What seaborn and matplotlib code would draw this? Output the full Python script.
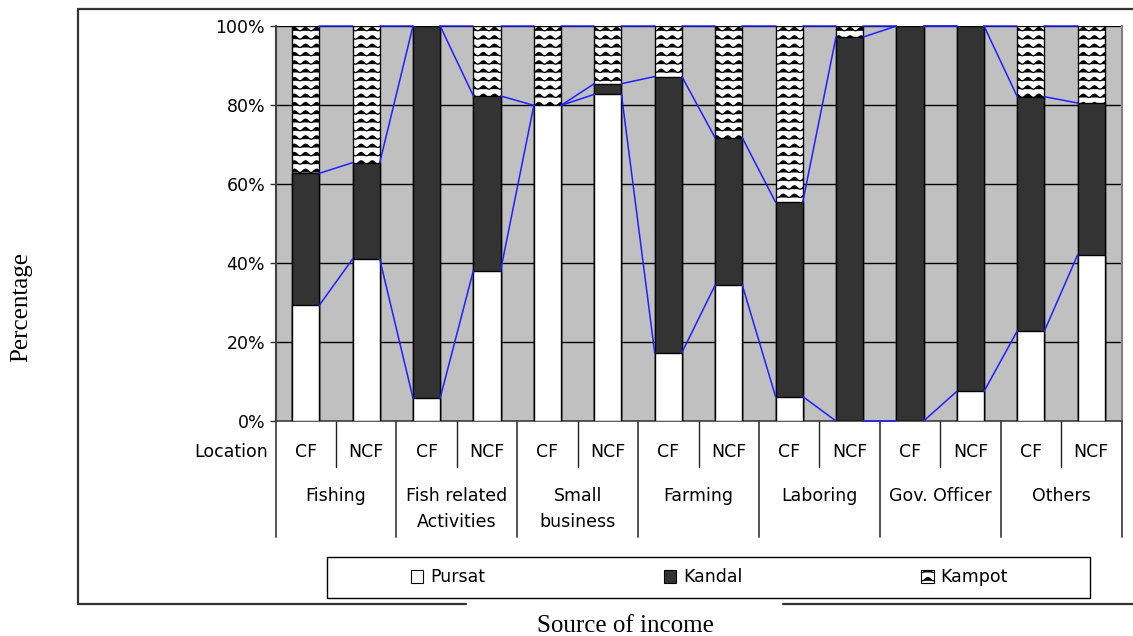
import warnings
warnings.filterwarnings("ignore")
import numpy as np
import pandas as pd
import matplotlib
matplotlib.use("Agg")
import matplotlib.pyplot as plt
import matplotlib.hatch as mhatch
from matplotlib.path import Path
from matplotlib.patches import Patch, Rectangle
from matplotlib.lines import Line2D
from matplotlib.transforms import blended_transform_factory
import seaborn as sns

# ---------------- data ----------------
categories = ["Fishing", "Fish related\nActivities", "Small\nbusiness", "Farming",
              "Laboring", "Gov. Officer", "Others"]
locations = ["CF", "NCF"]
pursat = [29.3, 41.0, 5.8, 38.1, 79.9, 82.7, 17.3, 34.4, 6.2, 0.0, 0.0, 7.5, 22.8, 42.1]
kandal = [33.4, 24.4, 94.2, 44.2, 0.0, 2.7, 69.9, 37.3, 49.2, 97.2, 100.0, 92.5, 59.3, 38.4]
kampot = [37.3, 34.6, 0.0, 17.7, 20.1, 14.6, 12.8, 28.3, 44.6, 2.8, 0.0, 0.0, 17.9, 19.5]
ytick_values = [0, 20, 40, 60, 80, 100]
ytick_labels = ["0%", "20%", "40%", "60%", "80%", "100%"]
series_names = ["Pursat", "Kandal", "Kampot"]

# ---------------- custom wave hatch ----------------
class WaveHatch(mhatch.HatchPatternBase):
    pts = 91

    def __init__(self, hatch, density):
        self.num_rows = int(hatch.count('~') * density)
        self.num_vertices = self.num_rows * self.pts

    def set_vertices_and_codes(self, vertices, codes):
        n = self.num_rows
        xs = np.linspace(0.0, 1.0, self.pts)
        cycles = 9
        amp = 0.2 / n
        for i in range(n):
            y0 = (i + 0.5) / n
            sl = slice(i * self.pts, (i + 1) * self.pts)
            vertices[sl, 0] = xs
            vertices[sl, 1] = y0 - amp * np.cos(2 * np.pi * cycles * xs)
            codes[sl] = Path.LINETO
            codes[i * self.pts] = Path.MOVETO


mhatch._hatch_types.append(WaveHatch)

sns.set_style("white")
plt.rcParams['font.family'] = ['DejaVu Sans']
plt.rcParams['hatch.linewidth'] = 0.9
plt.rcParams['text.color'] = 'black'
plt.rcParams['ytick.color'] = 'black'
plt.rcParams['xtick.color'] = 'black'
plt.rcParams['axes.labelcolor'] = 'black'
FS = 12.5
HATCH_COLOR = "#444444"

keys = [f"{c}|{l}" for c in categories for l in locations]
df = pd.DataFrame({"key": keys, "Pursat": pursat, "Kandal": kandal, "Kampot": kampot})
df["lvl_pursat"] = df["Pursat"]
df["lvl_kandal"] = df["Pursat"] + df["Kandal"]
df["lvl_total"] = df["Pursat"] + df["Kandal"] + df["Kampot"]

W, H = 1133, 636
fig = plt.figure(figsize=(W / 100, H / 100), dpi=100)
ax = fig.add_axes([275.5 / W, 215 / H, 846 / W, 395 / H])
ax.set_facecolor("#C0C0C0")

BW = 0.45
dark = "#333333"


def style_hatch(p):
    p.set_hatch("~~")
    if hasattr(p, "set_hatchcolor"):
        try:
            p.set_hatchcolor(HATCH_COLOR)
        except Exception:
            pass


n0 = len(ax.patches)
sns.barplot(data=df, x="key", y="lvl_total", order=keys, width=BW, color="white",
            edgecolor="black", linewidth=1, saturation=1, errorbar=None, ax=ax, zorder=2)
for p in ax.patches[n0:]:
    style_hatch(p)
sns.barplot(data=df, x="key", y="lvl_kandal", order=keys, width=BW, color=dark,
            edgecolor="black", linewidth=1, saturation=1, errorbar=None, ax=ax, zorder=3)
sns.barplot(data=df, x="key", y="lvl_pursat", order=keys, width=BW, color="white",
            edgecolor="black", linewidth=1, saturation=1, errorbar=None, ax=ax, zorder=4)

# series lines
blue = "#1f1fff"
n = len(keys)
for col in ["lvl_pursat", "lvl_kandal", "lvl_total"]:
    vals = df[col].values
    xs, ys = [], []
    for i in range(n - 1):
        xs += [i + BW / 2, i + 1 - BW / 2, np.nan]
        ys += [vals[i], vals[i + 1], np.nan]
    ax.plot(xs, ys, color=blue, lw=1.1, zorder=5, clip_on=False)

ax.set_xlim(-0.5, n - 0.5)
ax.set_ylim(0, 100)
ax.set_yticks(ytick_values)
ax.set_yticklabels(ytick_labels)
ax.set_xlabel("")
ax.set_ylabel("")
ax.yaxis.grid(True, color="black", lw=1)
ax.xaxis.grid(False)
ax.set_axisbelow(True)
ax.tick_params(axis="y", left=True, length=4.5, width=1, color="#333333",
               labelsize=FS, pad=3, labelcolor="black")
ax.tick_params(axis="x", bottom=False, labelbottom=False)
ax.spines["top"].set_visible(False)
ax.spines["left"].set_color("#404040")
ax.spines["left"].set_linewidth(1.5)
ax.spines["bottom"].set_color("#404040")
ax.spines["bottom"].set_linewidth(1.2)
ax.spines["right"].set_color("#808080")
ax.spines["right"].set_linewidth(1.5)

# ---------------- category table below axis ----------------
tr = blended_transform_factory(ax.transData, ax.transAxes)
AH = 395.0
y_loc_bottom = -46 / AH
y_cat_bottom = -116 / AH
y_loc_text = -31 / AH
y_cat_text = -66 / AH
for i in range(len(categories)):
    ax.plot([2 * i + 0.5, 2 * i + 0.5], [0, y_loc_bottom], transform=tr,
            color="#222222", lw=1, clip_on=False)
for i in range(len(categories) + 1):
    ax.plot([2 * i - 0.5, 2 * i - 0.5], [0, y_cat_bottom], transform=tr,
            color="#444444", lw=1.3, clip_on=False)
for j, k in enumerate(keys):
    ax.text(j, y_loc_text, k.split("|")[1], transform=tr, ha="center", va="center",
            fontsize=FS, color="black")
for i, c in enumerate(categories):
    ax.text(2 * i + 0.5, y_cat_text, c, transform=tr, ha="center", va="top",
            fontsize=FS, linespacing=1.55, color="black")
ax.text(-8 / 846, y_loc_text, "Location", transform=ax.transAxes, ha="right",
        va="center", fontsize=FS, color="black")

# ---------------- outer frame ----------------
fc = "#333333"
def fline(x0, y0, x1, y1, lw=1.6):
    fig.add_artist(Line2D([x0 / W, x1 / W], [1 - y0 / H, 1 - y1 / H],
                          transform=fig.transFigure, color=fc, lw=lw))
fline(78, 9, W, 9)
fline(78, 9, 78, 603.5)
fline(78, 603.5, 466, 603.5)
fline(783, 603.5, W, 603.5)

# ---------------- legend ----------------
fig.add_artist(Rectangle((327 / W, 1 - 598 / H), 763 / W, 41 / H,
                         transform=fig.transFigure, facecolor="white",
                         edgecolor="black", lw=1))
kampot_handle = Patch(facecolor="white", edgecolor="black", lw=0.8)
style_hatch(kampot_handle)
handles = [Patch(facecolor="white", edgecolor="black", lw=0.8),
           Patch(facecolor=dark, edgecolor="black", lw=0.8),
           kampot_handle]
leg = fig.legend(handles, series_names, loc="center",
                 bbox_to_anchor=(709.5 / W, 1 - 577.5 / H), ncol=3, frameon=False,
                 handlelength=0.7, handleheight=0.7, handletextpad=0.4,
                 columnspacing=10.3, fontsize=FS, borderpad=0, labelcolor="black")
leg.set_zorder(10)

# ---------------- axis titles ----------------
fig.text(21 / W, 1 - 307 / H, "Percentage", rotation=90, ha="center", va="center",
         family="Liberation Serif", fontsize=18, color="black")
fig.text(625.5 / W, 1 - 626 / H, "Source of income", ha="center", va="center",
         family="Liberation Serif", fontsize=18, color="black")

fig.savefig("out.png", dpi=100)
